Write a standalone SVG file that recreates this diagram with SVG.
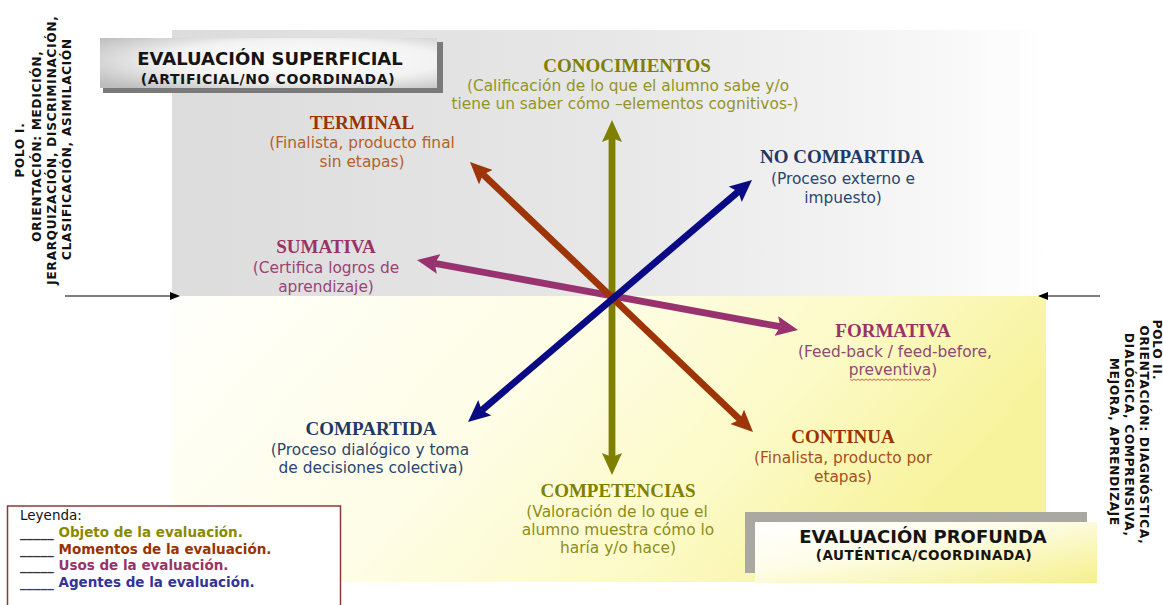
<svg xmlns="http://www.w3.org/2000/svg" width="1163" height="605" viewBox="0 0 1163 605">
<defs>
<linearGradient id="gGrey" x1="0" y1="0" x2="1" y2="0">
<stop offset="0" stop-color="#dcdcdc"/><stop offset="0.5" stop-color="#e7e7e7"/><stop offset="0.85" stop-color="#f6f6f6"/><stop offset="1" stop-color="#ffffff"/>
</linearGradient>
<linearGradient id="gYellow" x1="0" y1="0" x2="1" y2="0.3">
<stop offset="0" stop-color="#fffffb"/><stop offset="0.45" stop-color="#fefde6"/><stop offset="0.75" stop-color="#fcfac6"/><stop offset="1" stop-color="#f7f39c"/>
</linearGradient>
<radialGradient id="gBox1" cx="0.6" cy="0.45" r="0.75">
<stop offset="0" stop-color="#ffffff"/><stop offset="0.55" stop-color="#f2f2f2"/><stop offset="1" stop-color="#bdbdbd"/>
</radialGradient>
<linearGradient id="gBox2" x1="0" y1="0" x2="1" y2="1">
<stop offset="0" stop-color="#ffffff"/><stop offset="0.4" stop-color="#fefde9"/><stop offset="1" stop-color="#f5f08c"/>
</linearGradient>
<marker id="mO" viewBox="0 0 22 20" refX="4" refY="10" markerWidth="22" markerHeight="20" markerUnits="userSpaceOnUse" orient="auto-start-reverse"><path d="M0,0 L22,10 L0,20 L4,10 Z" fill="#7f7f00"/></marker>
<marker id="mBr" viewBox="0 0 22 20" refX="4" refY="10" markerWidth="22" markerHeight="20" markerUnits="userSpaceOnUse" orient="auto-start-reverse"><path d="M0,0 L22,10 L0,20 L4,10 Z" fill="#9e3508"/></marker>
<marker id="mBl" viewBox="0 0 22 20" refX="4" refY="10" markerWidth="22" markerHeight="20" markerUnits="userSpaceOnUse" orient="auto-start-reverse"><path d="M0,0 L22,10 L0,20 L4,10 Z" fill="#0a0a85"/></marker>
<marker id="mP" viewBox="0 0 22 20" refX="4" refY="10" markerWidth="22" markerHeight="20" markerUnits="userSpaceOnUse" orient="auto-start-reverse"><path d="M0,0 L22,10 L0,20 L4,10 Z" fill="#993370"/></marker>
<marker id="mK" viewBox="0 0 10 8" refX="2" refY="4" markerWidth="10" markerHeight="8" markerUnits="userSpaceOnUse" orient="auto"><path d="M0,0 L10,4 L0,8 Z" fill="#000"/></marker>
</defs>
<style>
.t{font-family:"Liberation Serif","Times New Roman",serif;font-weight:bold;font-size:19px;text-anchor:middle}
.d{font-family:"DejaVu Sans","Liberation Sans",sans-serif;font-size:15.4px;text-anchor:middle}
.v{font-family:"DejaVu Sans","Liberation Sans",sans-serif;font-weight:bold;font-size:12px;letter-spacing:0.8px;text-anchor:middle;fill:#111}
.h{font-family:"DejaVu Sans","Liberation Sans",sans-serif;font-weight:bold;text-anchor:middle;fill:#151515}
.lg{font-family:"DejaVu Sans","Liberation Sans",sans-serif;font-weight:bold;font-size:13.5px}
.ax{fill:none;stroke-width:6.8}
</style>

<g id="background">
<rect x="172" y="30" width="874" height="266" fill="url(#gGrey)"/>
<rect x="172" y="296" width="874" height="286" fill="url(#gYellow)"/>
</g>

<g id="polo1">
<text class="v" transform="translate(24,150) rotate(-90)">POLO I.</text>
<text class="v" transform="translate(41,146) rotate(-90)">ORIENTACIÓN: MEDICIÓN,</text>
<text class="v" transform="translate(56,150) rotate(-90)">JERARQUIZACIÓN, DISCRIMINACIÓN,</text>
<text class="v" transform="translate(71,149) rotate(-90)">CLASIFICACIÓN, ASIMILACIÓN</text>
</g>
<g id="polo2">
<text class="v" transform="translate(1153,350) rotate(90)">POLO II.</text>
<text class="v" transform="translate(1140,435) rotate(90)">ORIENTACIÓN: DIAGNÓSTICA,</text>
<text class="v" transform="translate(1125,435) rotate(90)">DIALÓGICA, COMPRENSIVA,</text>
<text class="v" transform="translate(1110,442) rotate(90)">MEJORA, APRENDIZAJE</text>
</g>

<g id="connectors">
<line x1="65" y1="296" x2="172" y2="296" stroke="#000" stroke-width="1.2" marker-end="url(#mK)"/>
<line x1="1100" y1="296" x2="1046" y2="296" stroke="#000" stroke-width="1.2" marker-end="url(#mK)"/>
<line class="ax" x1="612" y1="138" x2="612" y2="457" stroke="#7f7f00" marker-start="url(#mO)" marker-end="url(#mO)"/>
<line class="ax" x1="434.7" y1="263.3" x2="780.3" y2="326.7" stroke="#993370" marker-start="url(#mP)" marker-end="url(#mP)"/>
<line class="ax" x1="483" y1="174.4" x2="740" y2="419.6" stroke="#9e3508" marker-start="url(#mBr)" marker-end="url(#mBr)"/>
<line class="ax" x1="738.3" y1="191.7" x2="481.7" y2="410.3" stroke="#0a0a85" marker-start="url(#mBl)" marker-end="url(#mBl)"/>
</g>

<g id="box-superficial">
<rect x="103" y="42" width="340" height="51" fill="#7a7a7a"/>
<rect x="100" y="38" width="337" height="50" fill="url(#gBox1)"/>
<text class="h" x="270" y="65" font-size="18">EVALUACIÓN SUPERFICIAL</text>
<text class="h" x="268" y="84" font-size="14" letter-spacing="0.6">(ARTIFICIAL/NO COORDINADA)</text>
</g>

<g id="box-profunda">
<rect x="745" y="512" width="342" height="61" fill="#a9a9a1"/>
<rect x="755" y="522" width="342" height="61" fill="url(#gBox2)"/>
<text class="h" x="923" y="543" font-size="18">EVALUACIÓN PROFUNDA</text>
<text class="h" x="924" y="560" font-size="13.5" letter-spacing="0.5">(AUTÉNTICA/COORDINADA)</text>
</g>

<g id="conocimientos">
<text class="t" x="627" y="72" fill="#808000">CONOCIMIENTOS</text>
<text class="d" x="628" y="91" fill="#949426">(Calificación de lo que el alumno sabe y/o</text>
<text class="d" x="625" y="109" fill="#949426">tiene un saber cómo –elementos cognitivos-)</text>
</g>
<g id="terminal">
<text class="t" x="362" y="129" fill="#993300">TERMINAL</text>
<text class="d" x="362" y="148" fill="#b3612a">(Finalista, producto final</text>
<text class="d" x="362" y="167" fill="#b3612a">sin etapas)</text>
</g>
<g id="sumativa">
<text class="t" x="326" y="253" fill="#993366">SUMATIVA</text>
<text class="d" x="326" y="273" fill="#9a4475">(Certifica logros de</text>
<text class="d" x="326" y="292" fill="#9a4475">aprendizaje)</text>
</g>
<g id="no-compartida">
<text class="t" x="842" y="163" fill="#1f3864">NO COMPARTIDA</text>
<text class="d" x="843" y="184" fill="#2a4670">(Proceso externo e</text>
<text class="d" x="843" y="203" fill="#2a4670">impuesto)</text>
</g>
<g id="formativa">
<text class="t" x="893" y="337" fill="#993366">FORMATIVA</text>
<text class="d" x="895" y="357" fill="#8e4a72">(Feed-back / feed-before,</text>
<text class="d" x="893" y="375" fill="#8e4a72">preventiva)</text>
<path d="M850,379 l2,1.5 l2,-1.5 l2,1.5 l2,-1.5 l2,1.5 l2,-1.5 l2,1.5 l2,-1.5 l2,1.5 l2,-1.5 l2,1.5 l2,-1.5 l2,1.5 l2,-1.5 l2,1.5 l2,-1.5 l2,1.5 l2,-1.5 l2,1.5 l2,-1.5 l2,1.5 l2,-1.5 l2,1.5 l2,-1.5 l2,1.5 l2,-1.5 l2,1.5 l2,-1.5 l2,1.5 l2,-1.5 l2,1.5 l2,-1.5 l2,1.5 l2,-1.5 l2,1.5 l2,-1.5 l2,1.5 l2,-1.5 l2,1.5 l2,-1.5" fill="none" stroke="#e03030" stroke-width="0.8"/>
</g>
<g id="continua">
<text class="t" x="843" y="443" fill="#993300">CONTINUA</text>
<text class="d" x="843" y="463" fill="#a8501c">(Finalista, producto por</text>
<text class="d" x="843" y="482" fill="#a8501c">etapas)</text>
</g>
<g id="compartida">
<text class="t" x="371" y="435" fill="#1f3864">COMPARTIDA</text>
<text class="d" x="370" y="455" fill="#2a4670">(Proceso dialógico y toma</text>
<text class="d" x="371" y="473" fill="#2a4670">de decisiones colectiva)</text>
</g>
<g id="competencias">
<text class="t" x="618" y="497" fill="#808000">COMPETENCIAS</text>
<text class="d" x="617" y="517" fill="#8c8c20">(Valoración de lo que el</text>
<text class="d" x="618" y="535" fill="#8c8c20">alumno muestra cómo lo</text>
<text class="d" x="618" y="553" fill="#8c8c20">haría y/o hace)</text>
</g>

<g id="legend">
<rect x="7.5" y="506" width="333" height="110" fill="#ffffff" stroke="#8b3a3a" stroke-width="1.5"/>
<text x="20" y="520" font-family="DejaVu Sans, Liberation Sans, sans-serif" font-size="13.5" fill="#111">Leyenda:</text>
<text class="lg" x="20" y="537"><tspan fill="#333">_____</tspan><tspan fill="#8a8a00"> Objeto de la evaluación.</tspan></text>
<text class="lg" x="20" y="554"><tspan fill="#333">_____</tspan><tspan fill="#993300"> Momentos de la evaluación.</tspan></text>
<text class="lg" x="20" y="570"><tspan fill="#333">_____</tspan><tspan fill="#993366"> Usos de la evaluación.</tspan></text>
<text class="lg" x="20" y="587"><tspan fill="#333399">_____</tspan><tspan fill="#333399"> Agentes de la evaluación.</tspan></text>
</g>
</svg>
